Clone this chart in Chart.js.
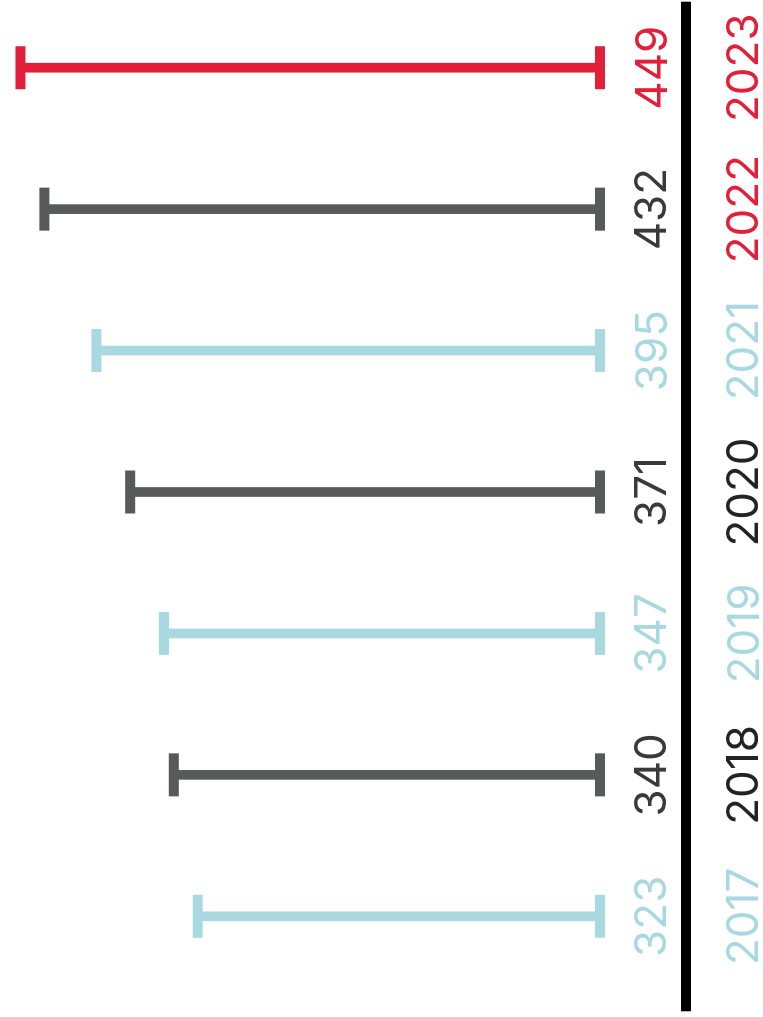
<!DOCTYPE html>
<html>
<head>
<meta charset="utf-8">
<script src="https://cdn.jsdelivr.net/npm/chart.js@4"></script>
<style>
  html, body { margin: 0; padding: 0; background: #fff; width: 763px; height: 1017px; overflow: hidden; }
  /* chart is drawn upright, then turned a quarter left like the printed page */
  #chart {
    position: absolute; left: 0; top: 0;
    transform-origin: 0 0;
    transform: translate(0px, 1017px) rotate(-90deg);
  }
</style>
</head>
<body>
<canvas id="chart" width="1040" height="763"></canvas>
<script>
const years = ["2017", "2018", "2019", "2020", "2021", "2022", "2023"];
const totals = [323, 340, 347, 371, 395, 432, 449];

const BLUE = "#a9d9e0";
const GRAY = "#58595b";
const RED = "#e2203a";
const DARK = "#232323";

const barColors = [BLUE, GRAY, BLUE, GRAY, BLUE, GRAY, RED];
const valueColors = [BLUE, "#3a3a3a", BLUE, "#3a3a3a", BLUE, "#3a3a3a", RED];
const yearColors = [BLUE, DARK, BLUE, DARK, BLUE, RED, RED];

const FONT = "400 44px Inter, 'Noto Sans', sans-serif";

function drawCentered(ctx, text, x, y) {
  const m = ctx.measureText(text);
  ctx.fillText(text, x, y + m.actualBoundingBoxAscent / 2);
}

const capsAndLabels = {
  id: "capsAndLabels",
  afterDatasetsDraw(chart) {
    const { ctx, chartArea, scales } = chart;
    const meta = chart.getDatasetMeta(0);
    const basePx = scales.y.getPixelForValue(scales.y.min);
    ctx.save();
    meta.data.forEach((bar, i) => {
      ctx.fillStyle = barColors[i];
      ctx.fillRect(bar.x - 21.5, bar.y - 5, 43, 10);
      ctx.fillRect(bar.x - 21.5, basePx - 5, 43, 10);
    });

    ctx.font = FONT;
    ctx.textAlign = "center";
    ctx.textBaseline = "alphabetic";
    meta.data.forEach((bar, i) => {
      ctx.fillStyle = valueColors[i];
      drawCentered(ctx, String(totals[i]), bar.x, chartArea.bottom + 50);
      ctx.fillStyle = yearColors[i];
      drawCentered(ctx, years[i], bar.x, chartArea.bottom + 142);
    });

    // baseline rule between values and years
    const left = scales.x.getPixelForValue(0) - 95;
    const right = scales.x.getPixelForValue(years.length - 1) + 66;
    ctx.fillStyle = "#000";
    ctx.fillRect(left, chartArea.bottom + 81, right - left, 10);
    ctx.restore();
  },
};

new Chart(document.getElementById("chart"), {
  type: "bar",
  data: {
    labels: years,
    datasets: [{ data: totals, base: 37, backgroundColor: barColors, borderWidth: 0, barThickness: 9 }],
  },
  options: {
    responsive: false,
    animation: false,
    layout: { padding: { left: 30, right: 20, top: 5, bottom: 163 } },
    plugins: { legend: { display: false }, tooltip: { enabled: false } },
    scales: {
      x: { display: false, offset: true },
      y: { display: false, min: 37, max: 460 },
    },
  },
  plugins: [capsAndLabels],
});
</script>
</body>
</html>
